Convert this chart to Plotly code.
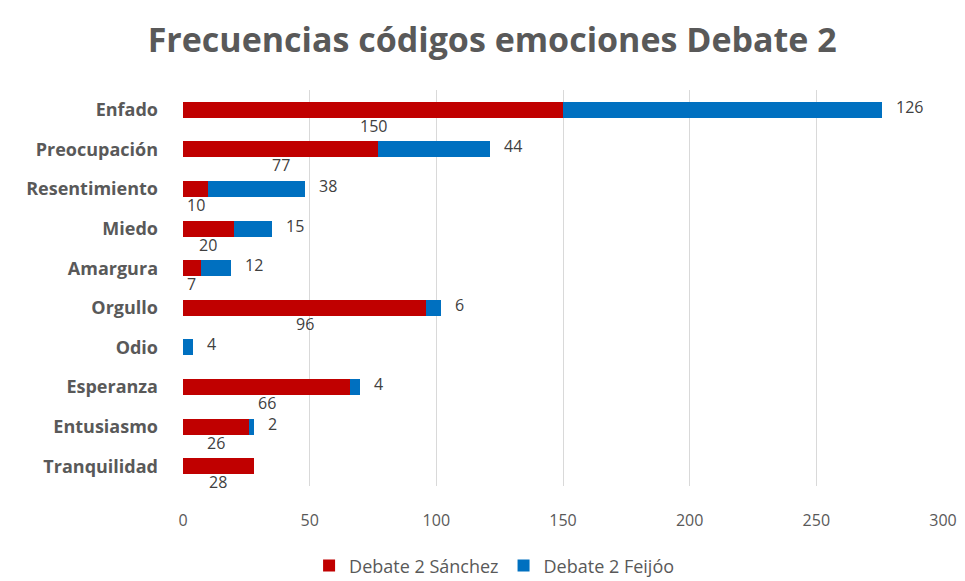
import plotly.graph_objects as go

# Emotion codes and their frequencies per candidate
emociones = ["Enfado", "Preocupación", "Resentimiento", "Miedo", "Amargura",
             "Orgullo", "Odio", "Esperanza", "Entusiasmo", "Tranquilidad"]
sanchez = [150, 77, 10, 20, 7, 96, 0, 66, 26, 28]
feijoo = [126, 44, 38, 15, 12, 6, 4, 4, 2, 0]
x_ticks = [0, 50, 100, 150, 200, 250, 300]

ROJO = "#C00000"
AZUL = "#0070C0"
GRIS = "#595959"
TEXTO = "#404040"
FUENTE = "Open Sans"

fig = go.Figure()
fig.add_trace(go.Bar(
    y=emociones, x=sanchez, orientation="h", name="Debate 2 Sánchez",
    marker=dict(color=ROJO, line=dict(width=0)), width=0.4,
))
fig.add_trace(go.Bar(
    y=emociones, x=feijoo, orientation="h", name="Debate 2 Feijóo",
    marker=dict(color=AZUL, line=dict(width=0)), width=0.4,
))

annotations = []
for cat, s, f in zip(emociones, sanchez, feijoo):
    if s > 0:
        # Sánchez value sits under the middle of the red segment
        annotations.append(dict(
            x=s / 2, y=cat, xref="x", yref="y", text=str(s), showarrow=False,
            yshift=-16, font=dict(size=16, color=TEXTO, family=FUENTE),
        ))
    if f > 0:
        # Feijóo value sits just past the end of the stacked bar
        annotations.append(dict(
            x=s + f, y=cat, xref="x", yref="y", text=str(f), showarrow=False,
            xanchor="left", xshift=12, yshift=3,
            font=dict(size=16, color=TEXTO, family=FUENTE),
        ))

fig.update_layout(
    barmode="stack",
    width=965, height=581,
    margin=dict(l=183, r=22, t=90, b=95, autoexpand=False),
    paper_bgcolor="white", plot_bgcolor="white",
    title=dict(
        text="Frecuencias códigos emociones Debate 2",
        x=0.51, xref="container", xanchor="center",
        y=0.931, yref="container", yanchor="middle",
        font=dict(size=34, color=GRIS, family=FUENTE, weight="bold"),
    ),
    xaxis=dict(
        range=[0, 300], tickvals=x_ticks, showgrid=True, gridcolor="#D9D9D9",
        gridwidth=1, zeroline=False, showline=False, ticks="",
        tickfont=dict(size=16, color=GRIS, family=FUENTE),
        ticklabelstandoff=23, fixedrange=True,
    ),
    yaxis=dict(
        categoryorder="array", categoryarray=emociones,
        range=[len(emociones) - 0.5, -0.5], autorange=False,
        showgrid=False, zeroline=False, showline=False, ticks="",
        tickfont=dict(size=18, color=GRIS, family=FUENTE, weight="bold"),
        ticklabelstandoff=24,
    ),
    legend=dict(
        orientation="h", xref="container", x=0.512, xanchor="center",
        yref="container", y=0.026, yanchor="middle",
        font=dict(size=18, color=GRIS, family=FUENTE),
        itemwidth=30, traceorder="normal",
    ),
    annotations=annotations,
    showlegend=True,
)

fig.write_html("out.html")
